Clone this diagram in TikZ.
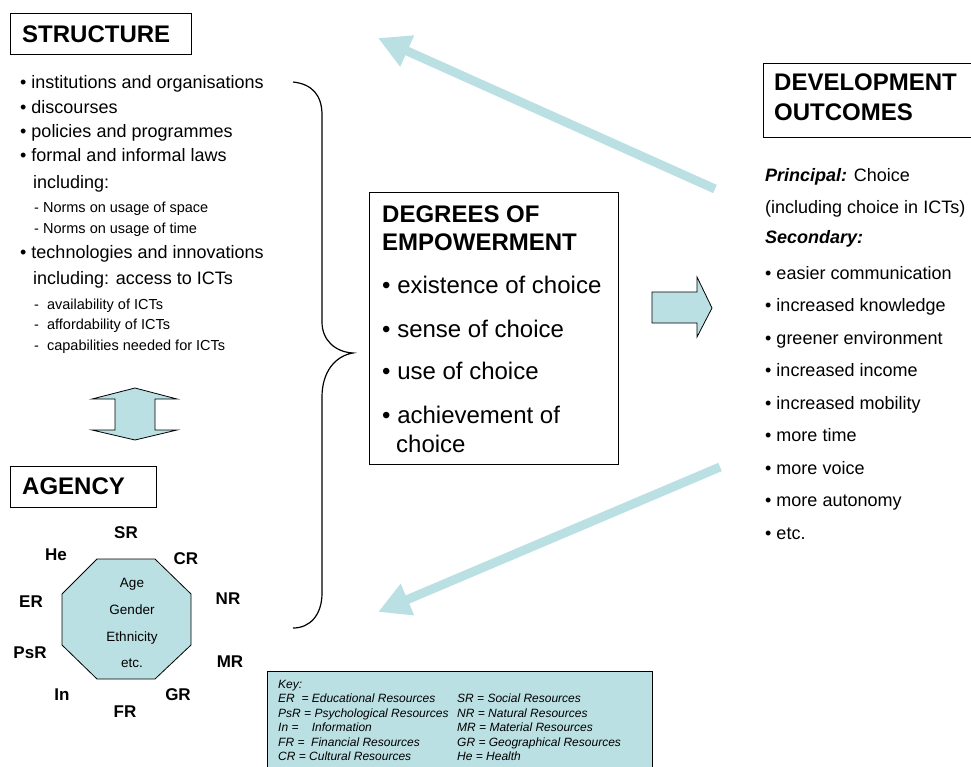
\documentclass[tikz,border=0pt]{standalone}
\usepackage{fontspec}
\setmainfont{Liberation Sans}
\usetikzlibrary{arrows.meta}
\definecolor{lightcyan}{RGB}{187,224,227}
\tikzset{
  titlebox/.style={draw, line width=1.2pt, inner sep=0pt, anchor=north west},
  heading/.style={anchor=base west, inner sep=0pt, font=\fontsize{24}{28}\selectfont\bfseries},
  item/.style={anchor=base west, inner sep=0pt, font=\fontsize{18}{22}\selectfont},
  subitem/.style={anchor=base west, inner sep=0pt, font=\fontsize{14.5}{17}\selectfont},
  bigitem/.style={anchor=base west, inner sep=0pt, font=\fontsize{24}{28}\selectfont},
  resource/.style={inner sep=0pt, font=\fontsize{17}{20}\selectfont\bfseries},
  trait/.style={anchor=base, inner sep=0pt, font=\fontsize{13.5}{16}\selectfont},
  keytext/.style={anchor=base west, inner sep=0pt, font=\fontsize{12}{14}\selectfont\itshape},
  flow/.style={draw=lightcyan, line width=9pt, -{Triangle[length=32pt,width=32pt]}},
  block/.style={draw, fill=lightcyan, line width=0.8pt, line join=miter},
}
\begin{document}
\begin{tikzpicture}[x=1pt, y=-1pt]
  \useasboundingbox (0,0) rectangle (971,766);

  \node[titlebox, minimum width=181pt, minimum height=41pt] (structurebox) at (10,13) {};
  \node[heading] (structure) at (22,42) {STRUCTURE};

  \foreach \y/\txt in {88/{• institutions and organisations}, 113/{• discourses},
      137/{• policies and programmes}, 161/{• formal and informal laws},
      258/{• technologies and innovations}}
    \node[item] (s\y) at (20,\y) {\txt};
  \foreach \y/\txt in {188/{including:}, 284/{including: access to ICTs}}
    \node[item] (s\y) at (33,\y) {\txt};
  \foreach \y/\txt in {212/{- Norms on usage of space}, 233/{- Norms on usage of time},
      309/{-\ \ availability of ICTs}, 329/{-\ \ affordability of ICTs},
      350/{-\ \ capabilities needed for ICTs}}
    \node[subitem] (s\y) at (34,\y) {\txt};

  \draw[line width=1.2pt] (293,82) .. controls (312,84) and (322,95) .. (322,115)
    -- (322,322) .. controls (322,340) and (335,352) .. (353,353)
    .. controls (335,356) and (322,372) .. (322,397)
    -- (322,593) .. controls (322,615) and (310,628) .. (293,628);

  \draw[block] (135,388) -- (177,399) -- (155,399) -- (155,430) -- (177,430) -- (135,440)
    -- (92,430) -- (115,430) -- (115,399) -- (92,399) -- cycle;

  \node[titlebox, minimum width=146pt, minimum height=41pt] (agencybox) at (10,466) {};
  \node[heading] (agency) at (22,494) {AGENCY};

  \draw[block] (97,559) -- (155,559) -- (191,594) -- (191,645) -- (155,679) -- (97,679)
    -- (62,645) -- (62,594) -- cycle;
  \foreach \y/\txt in {587/Age, 614/Gender, 641/Ethnicity, 667/etc.}
    \node[trait] (t\txt) at (132,\y) {\txt};
  \foreach \x/\y/\txt in {126/533/SR, 56/555/He, 186/559/CR, 228/599/NR, 31/602/ER,
      30/653/PsR, 230/662/MR, 62/695/In, 178/695/GR, 125/712/FR}
    \node[resource] (r\txt) at (\x,\y) {\txt};

  \node[titlebox, fill=lightcyan, minimum width=385pt, minimum height=100pt] (keybox) at (267,671) {};
  \node[keytext] (key) at (278,688) {Key:};
  \foreach \y/\left/\right in {702.5/{ER\ \ = Educational Resources}/{SR = Social Resources},
      717/{PsR = Psychological Resources}/{NR = Natural Resources},
      731.5/{In =\ \ \ \ Information}/{MR = Material Resources},
      746/{FR =\ \ Financial Resources}/{GR = Geographical Resources},
      760.5/{CR = Cultural Resources}/{He = Health}} {
    \node[keytext] (kl\y) at (278,\y) {\left};
    \node[keytext] (kr\y) at (457,\y) {\right};
  }

  \node[titlebox, minimum width=249pt, minimum height=272pt] (degreebox) at (369,192) {};
  \node[heading] (degrees) at (382,222) {DEGREES OF};
  \node[heading] (empowerment) at (382,250) {EMPOWERMENT};
  \foreach \y/\txt in {293/{• existence of choice}, 337/{• sense of choice},
      379/{• use of choice}, 423/{• achievement of}}
    \node[bigitem] (d\y) at (382,\y) {\txt};
  \node[bigitem] (d452) at (396,452) {choice};

  \draw[block] (652,292) -- (697,292) -- (697,277) -- (712,308) -- (697,337) -- (697,323)
    -- (652,323) -- cycle;

  \node[titlebox, minimum width=210pt, minimum height=74pt] (outcomebox) at (763,63) {};
  \node[heading] (development) at (774,90) {DEVELOPMENT};
  \node[heading] (outcomes) at (774,120) {OUTCOMES};
  \node[item] (principal) at (765,181) {\textbf{\textit{Principal:}} Choice};
  \node[item] (including) at (765,213) {(including choice in ICTs)};
  \node[item] (secondary) at (765,243) {\textbf{\textit{Secondary:}}};
  \foreach \y/\txt in {279/{easier communication}, 311.5/{increased knowledge},
      344/{greener environment}, 376.5/{increased income}, 409/{increased mobility},
      441.5/{more time}, 474/{more voice}, 506.5/{more autonomy}, 539/{etc.}}
    \node[item] (o\y) at (765,\y) {• \txt};

  \coordinate (uptail) at (715,189);
  \coordinate (uptip) at (378,38);
  \coordinate (downtail) at (720,467);
  \coordinate (downtip) at (378,612);
  \draw[flow] (uptail) -- (uptip);
  \draw[flow] (downtail) -- (downtip);
\end{tikzpicture}
\end{document}
